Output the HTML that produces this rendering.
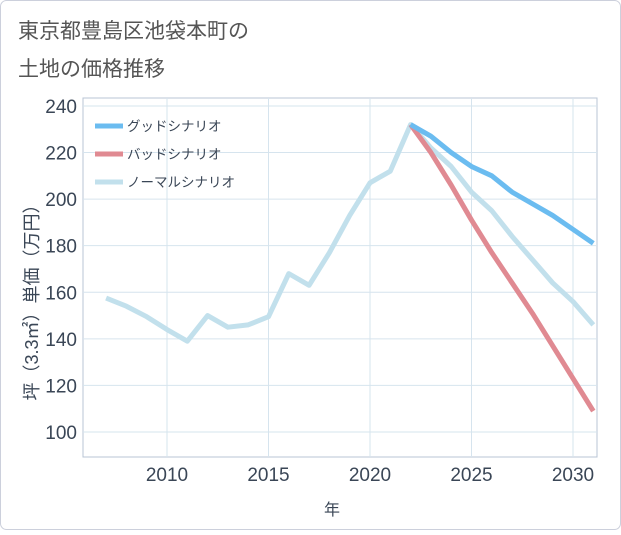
<!DOCTYPE html>
<html><head><meta charset="utf-8"><style>
body{margin:0;background:#fff;}
svg text{font-family:"Liberation Sans","Noto Sans CJK JP",sans-serif;}
</style></head><body>
<svg width="621" height="530" xmlns="http://www.w3.org/2000/svg">
<rect x="0.5" y="0.5" width="620" height="529" rx="6" fill="#fff" stroke="#ccd0dc"/>
<text x="18" y="38" font-size="21" fill="#555">東京都豊島区池袋本町の</text>
<text x="18" y="76" font-size="21" fill="#555">土地の価格推移</text>
<g id="grid"></g>
<g id="series"></g>
<g id="legend"></g>
<text x="332" y="515" font-size="16" fill="#3a4656" text-anchor="middle">年</text>
<text transform="translate(38,298) rotate(-90)" font-size="18" fill="#3a4656" text-anchor="middle">坪（3.3㎡）単価（万円）</text>
</svg>
<script>
const years=[2007,2008,2009,2010,2011,2012,2013,2014,2015,2016,2017,2018,2019,2020,2021,2022,2023,2024,2025,2026,2027,2028,2029,2030,2031];
const normalValues=[157.5,154,149.5,144,139,150,145,146,149.5,168,163,177,193,207,212,232,222,214,203,195,184,174,164,156,146];
const futureYears=[2022,2023,2024,2025,2026,2027,2028,2029,2030,2031];
const goodValues=[232,227,220,214,210,203,198,193,187,181];
const badValues=[232,220,206,191,177,164,151,137,123,109];
const xTicks=[2010,2015,2020,2025,2030];
const yTicks=[100,120,140,160,180,200,220,240];
const NS="http://www.w3.org/2000/svg";
const L=83,R=597,T=98,B=457;
const X=v=>167+(v-2010)*20.3;
const Y=v=>432-(v-100)*2.329;
function mk(tag,attrs,parent){const e=document.createElementNS(NS,tag);for(const k in attrs)e.setAttribute(k,attrs[k]);parent.appendChild(e);return e;}
const g=document.getElementById('grid');
const bg=mk('rect',{x:L,y:T,width:R-L,height:B-T,fill:'#fff',stroke:'#b8c4d4'},g);


yTicks.forEach(t=>{
 const l=mk('line',{x1:L,x2:R,y1:Y(t),y2:Y(t),stroke:'#d6e4ee'},g);
 
 
 const tx=mk('text',{x:L-6,y:Y(t)+7,'font-size':19,fill:'#3a4656','text-anchor':'end'},g);tx.textContent=t;
 
 
});
xTicks.forEach(t=>{
 const l=mk('line',{x1:X(t),x2:X(t),y1:T,y2:B,stroke:'#d6e4ee'},g);
 
 
 const tx=mk('text',{x:X(t),y:B+24,'font-size':19,fill:'#3a4656','text-anchor':'middle'},g);tx.textContent=t;
 
 
});
const s=document.getElementById('series');
function line(xs,vs,color,name){
 const p=mk('polyline',{points:xs.map((x,i)=>X(x)+','+Y(vs[i])).join(' '),fill:'none',stroke:color,'stroke-width':5,'stroke-linejoin':'round'},s);
 
 
}
line(years,normalValues,'#c2e0ec','normal-scenario-line');
line(futureYears,badValues,'#e08a92','bad-scenario-line');
line(futureYears,goodValues,'#6bbcf0','good-scenario-line');
const lg=document.getElementById('legend');
[['グッドシナリオ','#6bbcf0','legend-good'],['バッドシナリオ','#e08a92','legend-bad'],['ノーマルシナリオ','#c2e0ec','legend-normal']].forEach((d,i)=>{
 const y=126+i*28;
 const gg=mk('g',{},lg);
 
 
 mk('line',{x1:95,x2:123,y1:y,y2:y,stroke:d[1],'stroke-width':5},gg);
 const t=mk('text',{x:127,y:y+5,'font-size':13.5,fill:'#3a4656'},gg);t.textContent=d[0];
});
</script>
</body></html>
